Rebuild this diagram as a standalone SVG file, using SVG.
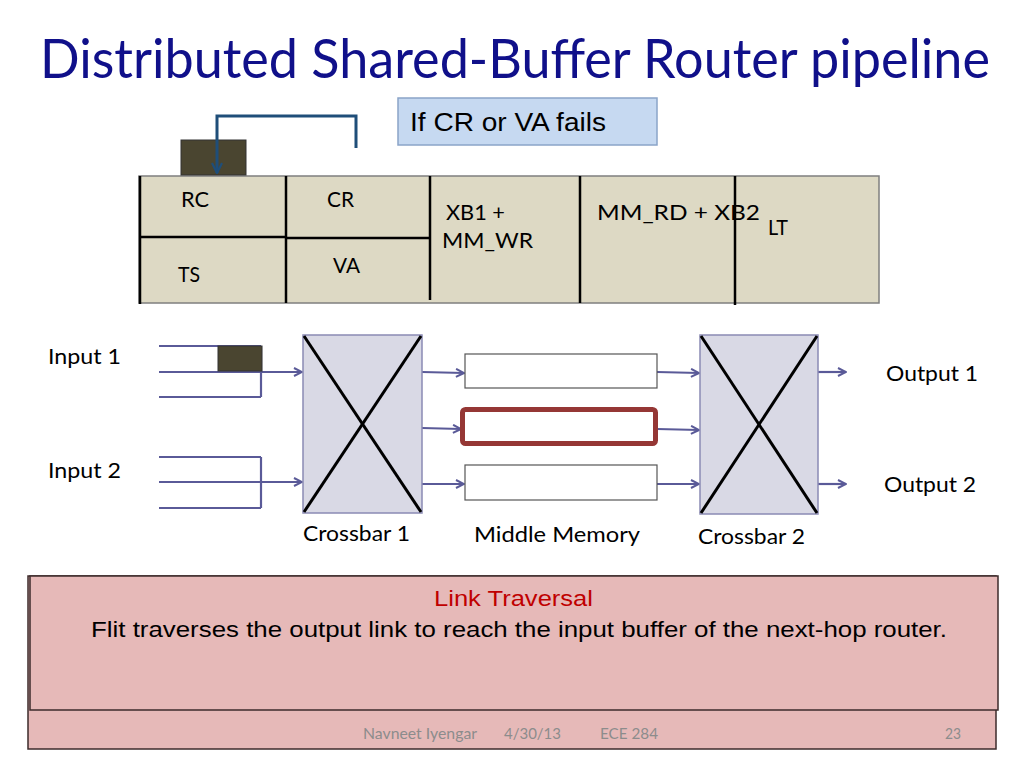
<svg xmlns="http://www.w3.org/2000/svg" width="1024" height="768" viewBox="0 0 1024 768">
<defs>
<style>
.cal{font-family:Lato,"Open Sans","Noto Sans",sans-serif;fill:#000}
.ari{font-family:"Liberation Sans",Arial,sans-serif}
.title{font-family:Lato,"Open Sans",sans-serif;font-size:54px;fill:#10108a}
.lbl{font-size:21.5px}
.cell{fill:#ddd9c4;stroke:#7f7f7f;stroke-width:1.5}
.div{stroke:#000;stroke-width:2.5}
.xbar{fill:#d9d9e5;stroke:#8a8ab4;stroke-width:1.5}
.xline{stroke:#000;stroke-width:3}
.mm{fill:#fff;stroke:#555;stroke-width:1.2}
.wire{stroke:#5a5a98;stroke-width:2.2;fill:none}
.flit{fill:#4a4530;stroke:#333;stroke-width:1}
.pink{fill:#e6b9b8;stroke:#3d2b2b;stroke-width:1.5}
.foot{font-family:Lato,"Open Sans",sans-serif;font-size:15px;fill:#8c8c8c}
</style>
<marker id="ah" viewBox="0 0 10 10" refX="9" refY="5" markerWidth="10" markerHeight="10" markerUnits="userSpaceOnUse" orient="auto">
<path d="M1,1 L9,5 L1,9" fill="none" stroke="#5a5a98" stroke-width="2"/>
</marker>
<marker id="ahb" viewBox="0 0 12 12" refX="11" refY="6" markerWidth="12" markerHeight="12" markerUnits="userSpaceOnUse" orient="auto">
<path d="M1,1 L11,6 L1,11" fill="none" stroke="#1f4e79" stroke-width="2.2"/>
</marker>
</defs>
<rect width="1024" height="768" fill="#fff"/>
<text class="title" x="40" y="78" textLength="950" lengthAdjust="spacingAndGlyphs">Distributed Shared-Buffer Router pipeline</text>

<g id="pipeline">
<rect class="cell" x="139" y="176" width="740" height="127"/>
<line class="div" x1="140" y1="176" x2="140" y2="304"/>
<line class="div" x1="286" y1="176" x2="286" y2="303"/>
<line class="div" x1="430" y1="176" x2="430" y2="300"/>
<line class="div" x1="580" y1="176" x2="580" y2="303"/>
<line class="div" x1="735" y1="176" x2="735" y2="305"/>
<line class="div" x1="139" y1="237" x2="286" y2="237"/>
<line class="div" x1="286" y1="238" x2="430" y2="238"/>
<text class="cal lbl" x="181" y="207" textLength="28" lengthAdjust="spacingAndGlyphs">RC</text>
<text class="cal lbl" x="327" y="207" textLength="27" lengthAdjust="spacingAndGlyphs">CR</text>
<text class="cal lbl" x="446" y="220" textLength="59" lengthAdjust="spacingAndGlyphs">XB1 +</text>
<text class="cal lbl" x="442" y="248" textLength="91" lengthAdjust="spacingAndGlyphs">MM_WR</text>
<text class="cal lbl" x="597" y="220" textLength="163" lengthAdjust="spacingAndGlyphs">MM_RD + XB2</text>
<text class="cal lbl" x="768" y="235" textLength="20" lengthAdjust="spacingAndGlyphs">LT</text>
<text class="cal lbl" x="178" y="282" textLength="22" lengthAdjust="spacingAndGlyphs">TS</text>
<text class="cal lbl" x="333" y="273" textLength="27" lengthAdjust="spacingAndGlyphs">VA</text>
</g>

<g id="flit-top"><rect class="flit" x="181" y="140" width="65" height="35"/></g>

<g id="fail-note">
<rect x="398" y="98" width="259" height="47" fill="#c6d9f1" stroke="#8aa4c8" stroke-width="1.5"/>
<text class="ari" x="410" y="131" font-size="25" fill="#000" textLength="196" lengthAdjust="spacingAndGlyphs">If CR or VA fails</text>
</g>

<g id="connectors">
<polyline points="356,148 356,116 217,116 217,173" fill="none" stroke="#1f4e79" stroke-width="3" marker-end="url(#ahb)"/>
<line class="wire" x1="159" y1="346" x2="261" y2="346"/>
<line class="wire" x1="159" y1="372" x2="302" y2="372" marker-end="url(#ah)"/>
<line class="wire" x1="159" y1="397" x2="261" y2="397"/>
<line class="wire" x1="261" y1="346" x2="261" y2="397"/>
<line class="wire" x1="159" y1="457" x2="261" y2="457"/>
<line class="wire" x1="159" y1="482" x2="302" y2="482" marker-end="url(#ah)"/>
<line class="wire" x1="159" y1="508" x2="261" y2="508"/>
<line class="wire" x1="261" y1="457" x2="261" y2="508"/>
<line class="wire" x1="422" y1="372" x2="464" y2="373" marker-end="url(#ah)"/>
<line class="wire" x1="422" y1="428" x2="461" y2="429" marker-end="url(#ah)"/>
<line class="wire" x1="422" y1="484" x2="464" y2="484" marker-end="url(#ah)"/>
<line class="wire" x1="657" y1="372" x2="699" y2="373" marker-end="url(#ah)"/>
<line class="wire" x1="657" y1="429" x2="699" y2="430" marker-end="url(#ah)"/>
<line class="wire" x1="657" y1="484" x2="699" y2="484" marker-end="url(#ah)"/>
<line class="wire" x1="818" y1="372" x2="846" y2="372" marker-end="url(#ah)"/>
<line class="wire" x1="818" y1="484" x2="846" y2="484" marker-end="url(#ah)"/>
</g>

<g id="input1">
<rect class="flit" x="218" y="346" width="44" height="25"/>
<text class="cal lbl" x="48" y="364" textLength="73" lengthAdjust="spacingAndGlyphs">Input 1</text>
</g>
<g id="input2">
<text class="cal lbl" x="48" y="478" textLength="73" lengthAdjust="spacingAndGlyphs">Input 2</text>
</g>

<g id="crossbar1">
<rect class="xbar" x="303" y="335" width="119" height="178"/>
<line class="xline" x1="304" y1="336" x2="421" y2="512"/>
<line class="xline" x1="421" y1="336" x2="304" y2="512"/>
<text class="cal lbl" x="303" y="541" textLength="107" lengthAdjust="spacingAndGlyphs">Crossbar 1</text>
</g>

<g id="middle-memory">
<rect class="mm" x="465" y="354" width="192" height="34"/>
<rect x="462.5" y="409.5" width="193" height="34" rx="3" fill="#fff" stroke="#953735" stroke-width="5"/>
<rect class="mm" x="465" y="465" width="192" height="35"/>
<text class="cal lbl" x="474" y="542" textLength="166" lengthAdjust="spacingAndGlyphs">Middle Memory</text>
</g>

<g id="crossbar2">
<rect class="xbar" x="700" y="335" width="118" height="179"/>
<line class="xline" x1="701" y1="336" x2="817" y2="513"/>
<line class="xline" x1="817" y1="336" x2="701" y2="513"/>
<text class="cal lbl" x="698" y="544" textLength="107" lengthAdjust="spacingAndGlyphs">Crossbar 2</text>
</g>

<g id="output1"><text class="cal lbl" x="886" y="381" textLength="92" lengthAdjust="spacingAndGlyphs">Output 1</text></g>
<g id="output2"><text class="cal lbl" x="884" y="492" textLength="92" lengthAdjust="spacingAndGlyphs">Output 2</text></g>

<g id="link-traversal">
<rect class="pink" x="28" y="576" width="968" height="173"/>
<rect class="pink" x="30" y="576" width="968" height="134" stroke-width="2"/>
<text class="ari" x="434" y="606" font-size="22" fill="#c00000" textLength="159" lengthAdjust="spacingAndGlyphs">Link Traversal</text>
<text class="ari" x="91" y="637" font-size="22" fill="#000" textLength="856" lengthAdjust="spacingAndGlyphs">Flit traverses the output link to reach the input buffer of the next-hop router.</text>
</g>

<g id="footer">
<text class="foot" x="363" y="739" textLength="114" lengthAdjust="spacingAndGlyphs">Navneet Iyengar</text>
<text class="foot" x="504" y="739" textLength="57" lengthAdjust="spacingAndGlyphs">4/30/13</text>
<text class="foot" x="600" y="739" textLength="58" lengthAdjust="spacingAndGlyphs">ECE 284</text>
<text class="foot" x="945" y="739" textLength="16" lengthAdjust="spacingAndGlyphs">23</text>
</g>
</svg>
